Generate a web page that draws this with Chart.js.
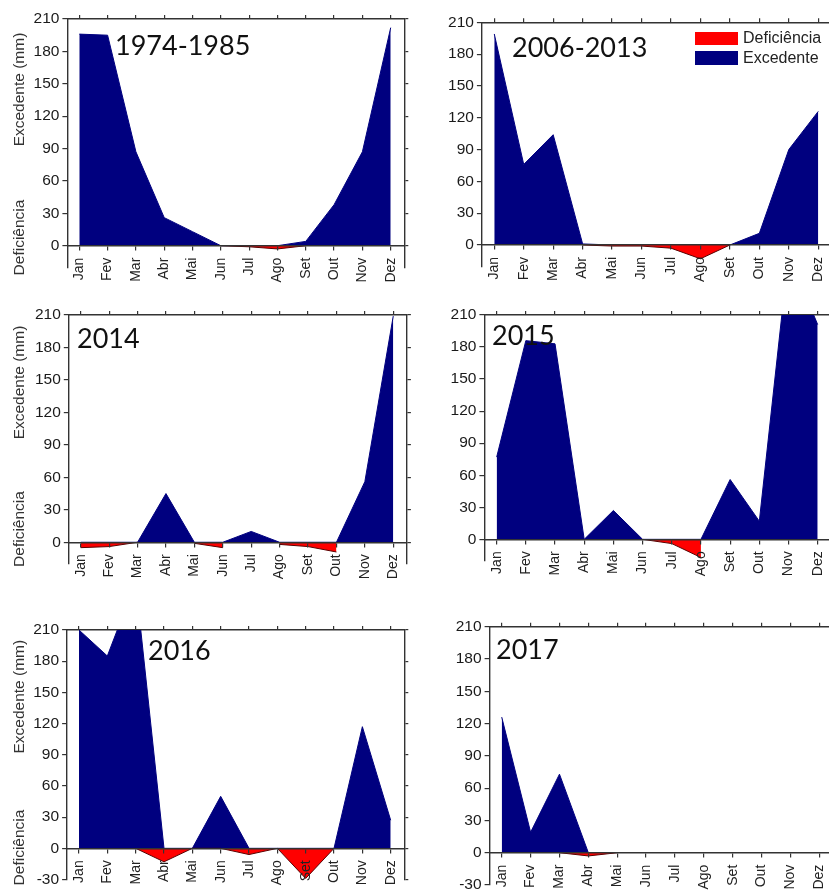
<!DOCTYPE html>
<html>
<head>
<meta charset="utf-8">
<script src="https://cdn.jsdelivr.net/npm/chart.js@4.4.1/dist/chart.umd.min.js"></script>
<style>
html, body { margin:0; padding:0; background:#fff; overflow:hidden; }
#wrap { position:relative; width:829px; height:895px; overflow:hidden; }
#wrap canvas { position:absolute; }
</style>
</head>
<body>
<div id="wrap"></div>
<script>
// ---------------- données ----------------
const months = ["Jan","Fev","Mar","Abr","Mai","Jun","Jul","Ago","Set","Out","Nov","Dez"];
const yTicks = [0,30,60,90,120,150,180,210];
const yTicksLow = [-30,0,30,60,90,120,150,180,210];
const legendLabels = ["Deficiência","Excedente"];
const periods = ["1974-1985","2006-2013","2014","2015","2016","2017"];

// excedente (>=0) et deficiência (<=0), mm
const exc1974 = [196,195,87,26,13,0,0,0,4,38,87,202];
const def1974 = [null,null,null,null,null,0,-1,-3,0,null,null,null];

const exc2006 = [199,76,104,1,0,0,0,0,0,11,90,126];
const def2006 = [null,null,null,0,-1,-1,-3,-13,0,null,null,null];

const exc2014 = [0,0,0,45,0,0,10,0,0,0,56,209];
const def2014 = [-5,-4,0,null,-1,-5,null,-2,-4,-9,null,null];

const exc2015 = [77,186,183,0,27,0,0,0,56,17,267,201];
const def2015 = [null,null,null,null,null,0,-4,-17,null,null,null,null];

const exc2016 = [210,185,256,0,0,50,0,0,0,0,117,27];
const def2016 = [null,null,0,-13,0,0,-6,0,-29,0,null,null];

const exc2017 = [126,19,73,0,null,null,null,null,null,null,null,null];
const def2017 = [null,null,0,-3,0,null,null,null,null,null,null,null];

const excSeries = [exc1974,exc2006,exc2014,exc2015,exc2016,exc2017];
const defSeries = [def1974,def2006,def2014,def2015,def2016,def2017];

// ---------------- mise en page (coordonnées de la page) ----------------
const NAVY = "#00007f", RED = "#ff0000", AXIS = "#333";
const FONT = "'Liberation Sans', Arial, sans-serif";
const WL = 40, WR = 4, HT = 4;

const frames = [
  {canvas:[0,0,415,300],   area:[67.4,404.3,19,267.3],   yMin:-20, label:[115,55],   titles:[[20,89.5],[20,237.5]]},
  {canvas:[415,0,430,300], area:[481.9,832.4,22.3,266.2], yMin:-20, label:[512,57],   titles:null, legend:true},
  {canvas:[0,300,415,300], area:[68.8,406.9,315,563.9],  yMin:-20, label:[77,348],   titles:[[20,382.5],[20,529]]},
  {canvas:[415,300,430,300], area:[484.4,831.7,315,560.7], yMin:-20, label:[492,345], titles:null},
  {canvas:[0,600,415,295], area:[67.1,404.3,630,879.5],  yMin:-30, label:[148,660],  titles:[[20,696.7],[20,847.5]]},
  {canvas:[415,600,430,295], area:[489.6,833.2,626.7,885], yMin:-30, label:[496,659], titles:null}
];

// ---------------- textes du panneau ----------------
const panelDecor = {
  id:"panelDecor",
  afterDraw(chart, args, opts){
    const ctx = chart.ctx;
    const ox = opts.origin[0], oy = opts.origin[1];
    ctx.save();
    ctx.fillStyle = "#111";
    ctx.font = "27px Lato, 'Open Sans', sans-serif";
    ctx.textAlign = "left";
    ctx.textBaseline = "alphabetic";
    ctx.fillText(opts.label, opts.labelPos[0]-ox, opts.labelPos[1]-oy);

    if (opts.titles){
      ctx.fillStyle = "#333";
      ctx.font = "15.5px " + FONT;
      ctx.textAlign = "center";
      ctx.textBaseline = "middle";
      const texts = ["Excedente (mm)","Deficiência"];
      opts.titles.forEach((p,i)=>{
        ctx.save();
        ctx.translate(p[0]-ox, p[1]-oy);
        ctx.rotate(-Math.PI/2);
        ctx.fillText(texts[i], 0, 0);
        ctx.restore();
      });
    }

    if (opts.legend){
      const colors = [RED, NAVY];
      const boxes = [[695,32,43,13],[695,51,43,14]];
      ctx.font = "16px " + FONT;
      ctx.textAlign = "left";
      ctx.textBaseline = "middle";
      legendLabels.forEach((t,i)=>{
        const b = boxes[i];
        ctx.fillStyle = colors[i];
        ctx.fillRect(b[0]-ox, b[1]-oy, b[2], b[3]);
        ctx.fillStyle = "#222";
        ctx.fillText(t, 743-ox, b[1]+b[3]/2-oy+0.5);
      });
    }
    ctx.restore();
  }
};

function toPoints(arr){
  return arr.map((v,i)=>({x:i, y:v}));
}

function setTicks(values){
  return function(scale){
    scale.ticks = values.map(v=>({value:v}));
  };
}

function noPad(size, horizontal){
  return function(scale){
    if (horizontal) scale.height = size; else scale.width = size;
    scale.paddingTop = 0; scale.paddingBottom = 0;
    scale.paddingLeft = 0; scale.paddingRight = 0;
  };
}

function drawPanel(idx){
  const f = frames[idx];
  const [cx,cy,cw,ch] = f.canvas;
  const [al,ar,at,ab] = f.area;
  const cv = document.createElement("canvas");
  cv.width = cw; cv.height = ch;
  cv.style.left = cx+"px"; cv.style.top = cy+"px";
  cv.style.width = cw+"px"; cv.style.height = ch+"px";
  document.getElementById("wrap").appendChild(cv);

  const yVals = f.yMin === -30 ? yTicksLow : yTicks;
  const monthIdx = months.map((m,i)=>i);
  const xMin = -0.42, xMax = 11.48;

  new Chart(cv,{
    type:"line",
    data:{
      datasets:[
        {label:legendLabels[0], data:toPoints(defSeries[idx]), backgroundColor:RED,
         borderColor:"#5a0000", borderWidth:1, fill:"origin"},
        {label:legendLabels[1], data:toPoints(excSeries[idx]), backgroundColor:NAVY,
         borderColor:NAVY, borderWidth:1, fill:"origin"}
      ]
    },
    options:{
      responsive:false,
      animation:false,
      layout:{
        autoPadding:false,
        padding:{left:al-cx-WL, right:cx+cw-ar-WR, top:at-cy-HT, bottom:cy+ch-ab}
      },
      elements:{line:{tension:0}, point:{radius:0}},
      plugins:{
        legend:{display:false},
        tooltip:{enabled:false},
        panelDecor:{origin:[cx,cy], label:periods[idx], labelPos:f.label,
                    titles:f.titles, legend:!!f.legend}
      },
      scales:{
        x:{
          type:"linear", min:xMin, max:xMax,
          position:{y:0},
          afterBuildTicks:setTicks(monthIdx),
          afterFit:noPad(0,true),
          grid:{drawOnChartArea:false, drawTicks:true, tickLength:4, color:AXIS, lineWidth:1.2, z:1},
          border:{display:true, color:AXIS, width:1.4, z:1},
          ticks:{
            autoSkip:false, minRotation:90, maxRotation:90, padding:8, z:1,
            color:"#222", font:{family:FONT, size:14},
            callback:(v)=>months[v]
          }
        },
        x2:{
          type:"linear", position:"top", min:xMin, max:xMax,
          afterBuildTicks:setTicks(monthIdx),
          afterFit:noPad(HT,true),
          grid:{drawOnChartArea:false, drawTicks:true, tickLength:4, color:AXIS, lineWidth:1.2},
          border:{display:true, color:AXIS, width:1.4},
          ticks:{display:false}
        },
        y:{
          type:"linear", position:"left", min:f.yMin, max:210,
          afterBuildTicks:setTicks(yVals),
          afterFit:noPad(WL,false),
          grid:{drawOnChartArea:false, drawTicks:true, tickLength:5, color:AXIS, lineWidth:1.2},
          border:{display:true, color:AXIS, width:1.4},
          ticks:{padding:3, color:"#1a1a1a", font:{family:FONT, size:15.5}}
        },
        y2:{
          type:"linear", position:"right", min:f.yMin, max:210,
          afterBuildTicks:setTicks(yVals),
          afterFit:noPad(WR,false),
          grid:{drawOnChartArea:false, drawTicks:true, tickLength:4, color:AXIS, lineWidth:1.2},
          border:{display:true, color:AXIS, width:1.4},
          ticks:{display:false}
        }
      }
    },
    plugins:[panelDecor]
  });
}

periods.forEach((p,i)=>drawPanel(i));
</script>
</body>
</html>
